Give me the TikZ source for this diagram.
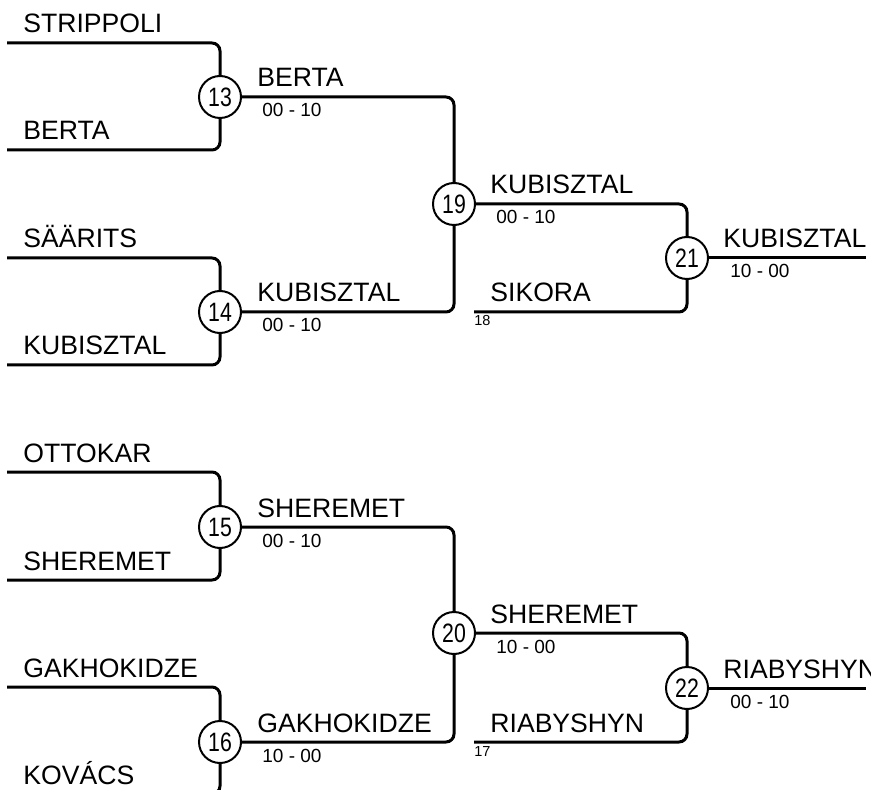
\documentclass[tikz,border=0pt]{standalone}
\usepackage{fontspec}
\usepackage{graphicx}
\setmainfont{Liberation Sans}
\newcommand{\narrow}[1]{\scalebox{0.8}[1]{#1}}

\begin{document}
\begin{tikzpicture}[x=0.5pt, y=-0.5pt,
    wire/.style={line width=1.5pt, rounded corners=4pt},
    match/.style={draw, circle, line width=1pt, minimum size=21pt, inner sep=0pt,
        fill=white, font=\fontsize{13.3}{15}\selectfont},
    player/.style={anchor=base west, inner sep=0pt, font=\fontsize{13.3}{15}\selectfont},
    score/.style={anchor=base west, inner sep=0pt, font=\fontsize{9.5}{11}\selectfont},
    seedno/.style={anchor=base west, inner sep=0pt, font=\fontsize{7.25}{8}\selectfont}]
    \useasboundingbox (0,0) rectangle (871,790);
    \clip (0,0) rectangle (871,790);

    % entry lines
    \coordinate (a1) at (7,43);
    \coordinate (a2) at (7,150);
    \coordinate (a3) at (7,258);
    \coordinate (a4) at (7,365);
    \coordinate (a5) at (7,472);
    \coordinate (a6) at (7,580);
    \coordinate (a7) at (7,687);
    \coordinate (a8) at (7,794);
    \coordinate (b18) at (474,312);
    \coordinate (b17) at (474,742);
    \coordinate (w21) at (866,258);
    \coordinate (w22) at (866,688);

    % matches
    \node[match] (m13) at (220,97) {\narrow{13}};
    \node[match] (m14) at (220,312) {\narrow{14}};
    \node[match] (m15) at (220,527) {\narrow{15}};
    \node[match] (m16) at (220,742) {\narrow{16}};
    \node[match] (m19) at (454,204) {\narrow{19}};
    \node[match] (m20) at (454,633) {\narrow{20}};
    \node[match] (m21) at (687,258) {\narrow{21}};
    \node[match] (m22) at (687,688) {\narrow{22}};

    \draw[wire] (a1) -| (m13);
    \draw[wire] (a2) -| (m13);
    \draw[wire] (a3) -| (m14);
    \draw[wire] (a4) -| (m14);
    \draw[wire] (a5) -| (m15);
    \draw[wire] (a6) -| (m15);
    \draw[wire] (a7) -| (m16);
    \draw[wire] (a8) -| (m16);
    \draw[wire] (m13) -| (m19);
    \draw[wire] (m14) -| (m19);
    \draw[wire] (m15) -| (m20);
    \draw[wire] (m16) -| (m20);
    \draw[wire] (m19) -| (m21);
    \draw[wire] (b18) -| (m21);
    \draw[wire] (m20) -| (m22);
    \draw[wire] (b17) -| (m22);
    \draw[wire] (m21) -- (w21);
    \draw[wire] (m22) -- (w22);

    % names
    \node[player] (n1) at (23,33) {STRIPPOLI};
    \node[player] (n2) at (23,140) {BERTA};
    \node[player] (n3) at (23,248) {SÄÄRITS};
    \node[player] (n4) at (23,355) {KUBISZTAL};
    \node[player] (n5) at (23,462) {OTTOKAR};
    \node[player] (n6) at (23,570) {SHEREMET};
    \node[player] (n7) at (23,677) {GAKHOKIDZE};
    \node[player] (n8) at (23,784) {KOVÁCS};
    \node[player] (n13) at (257,87) {BERTA};
    \node[player] (n14) at (257,302) {KUBISZTAL};
    \node[player] (n15) at (257,517) {SHEREMET};
    \node[player] (n16) at (257,732) {GAKHOKIDZE};
    \node[player] (n19) at (490,194) {KUBISZTAL};
    \node[player] (n18) at (490,302) {SIKORA};
    \node[player] (n20) at (490,623) {SHEREMET};
    \node[player] (n17) at (490,732) {RIABYSHYN};
    \node[player] (n21) at (723,248) {KUBISZTAL};
    \node[player] (n22) at (723,678) {RIABYSHYN};

    % scores
    \node[score] (s13) at (262,117) {00 - 10};
    \node[score] (s14) at (262,332) {00 - 10};
    \node[score] (s15) at (262,547) {00 - 10};
    \node[score] (s16) at (262,762) {10 - 00};
    \node[score] (s19) at (496,224) {00 - 10};
    \node[score] (s20) at (496,653) {10 - 00};
    \node[score] (s21) at (730,278) {10 - 00};
    \node[score] (s22) at (730,708) {00 - 10};
    \node[seedno] (k18) at (474,326) {18};
    \node[seedno] (k17) at (474,756) {17};
\end{tikzpicture}
\end{document}
